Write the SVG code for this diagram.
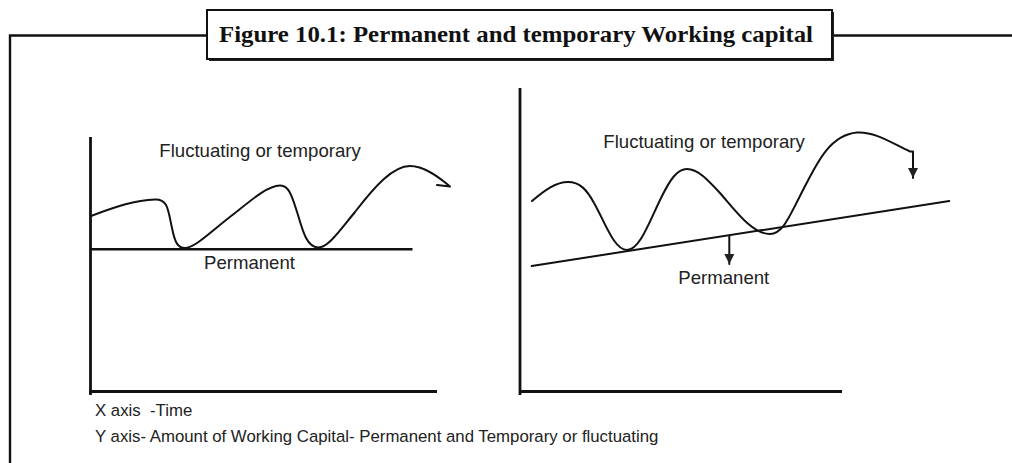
<svg xmlns="http://www.w3.org/2000/svg" width="1012" height="463" viewBox="0 0 1012 463">
  <style>
    .frame { fill: none; stroke: #111; stroke-width: 2.4; }
    .axis { stroke: #111; stroke-width: 2.8; fill: none; }
    .base { stroke: #111; stroke-width: 2.6; fill: none; }
    .curve { stroke: #111; stroke-width: 2; fill: none; stroke-linecap: round; stroke-linejoin: round; }
    .lbl { font-family: "Liberation Sans", Arial, sans-serif; font-size: 18.6px; fill: #222; }
    .note { font-family: "Liberation Sans", Arial, sans-serif; font-size: 16.8px; fill: #222; }
    .title { font-family: "Liberation Serif", "Times New Roman", serif; font-weight: bold; font-size: 22.5px; fill: #111; }
  </style>
  <defs>
    <marker id="tri" viewBox="0 0 10 10" refX="10" refY="5" markerWidth="10" markerHeight="11" markerUnits="userSpaceOnUse" orient="auto">
      <path d="M0,0 L10,5 L0,10 z" fill="#222"/>
    </marker>
  </defs>
  <rect width="1012" height="463" fill="#fff"/>

  <g id="frame">
    <path class="frame" d="M10,463 L10,35.5 L207,35.5 M832,35.5 L1012,35.5"/>
  </g>

  <g id="title">
    <rect x="209" y="12" width="625" height="49" fill="#222"/>
    <rect x="207" y="10" width="625" height="49" fill="#fff" stroke="#111" stroke-width="2"/>
    <text class="title" x="219" y="41.5" textLength="594" lengthAdjust="spacingAndGlyphs">Figure 10.1: Permanent and temporary Working capital</text>
  </g>

  <g id="left-chart">
    <path class="axis" d="M90.5,137 L90.5,395 M89,391.5 L437,391.5"/>
    <path class="base" d="M90,249.3 L412.5,249.3"/>
    <text class="lbl" x="159.3" y="157">Fluctuating or temporary</text>
    <text class="lbl" x="204" y="269.3">Permanent</text>
  </g>

  <g id="right-chart">
    <path class="axis" d="M520,88 L520,395 M518.6,391.5 L842,391.5"/>
    <path class="curve" d="M531.7,266 L949.3,201"/>
    <text class="lbl" x="603.3" y="148.3">Fluctuating or temporary</text>
    <text class="lbl" x="678.3" y="284">Permanent</text>
  </g>

  <g id="connectors">
    <path class="curve" d="M91,216 C115,207 135,200 155,199.5 C168,199 168,210 172,228 C175,243 178,248 185,248 C195,248 210,232 235,213 C255,197 268,186 280,185.5 C290,185 293,200 298,215 C303,232 307,247 318,247.5 C328,248 340,230 355,212 C375,186 393,166 410,166 C425,166 440,178 450,186.5 M437,185 L450,186.5"/>
    <path class="curve" d="M532,201 C545,190 556,182 568,182 C580,182 587,190 594,203 C605,222 614,250 627,250 C640,250 650,220 662,196 C670,180 677,169 687,169 C698,169 708,180 720,193 C735,210 752,234 770,234 C783,234 790,215 800,196 C815,167 828,135 857,132.5 C875,131 895,145 910,151.5 L913,151.5 L913,178" marker-end="url(#tri)"/>
    <path class="curve" d="M729.3,235.7 L729.3,264" marker-end="url(#tri)"/>
  </g>

  <g id="notes">
    <text class="note" x="95" y="416" xml:space="preserve">X axis  -Time</text>
    <text class="note" x="95" y="442">Y axis- Amount of Working Capital- Permanent and Temporary or fluctuating</text>
  </g>
</svg>
